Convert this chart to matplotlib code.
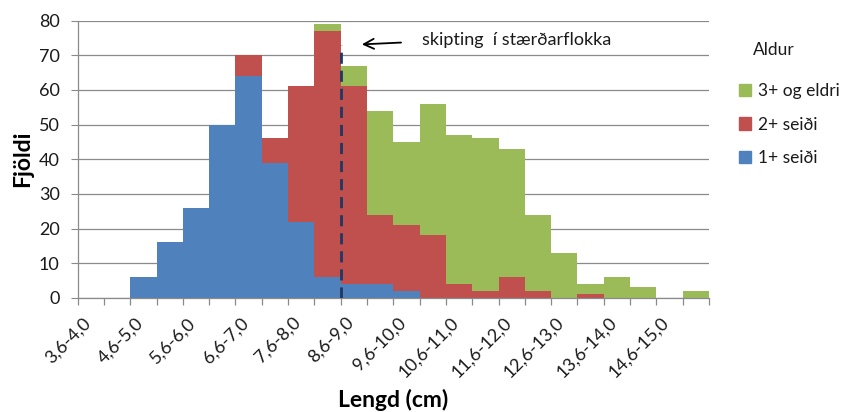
import matplotlib
matplotlib.use("Agg")
import matplotlib.pyplot as plt
from matplotlib.patches import Patch
import matplotlib.transforms as mtransforms
import numpy as np

plt.rcParams['font.family'] = ['Lato', 'DejaVu Sans']

categories = ["3,6-4,0", "4,1-4,5", "4,6-5,0", "5,1-5,5", "5,6-6,0", "6,1-6,5",
              "6,6-7,0", "7,1-7,5", "7,6-8,0", "8,1-8,5", "8,6-9,0", "9,1-9,5",
              "9,6-10,0", "10,1-10,5", "10,6-11,0", "11,1-11,5", "11,6-12,0", "12,1-12,5",
              "12,6-13,0", "13,1-13,5", "13,6-14,0", "14,1-14,5", "14,6-15,0", "15,1-15,5"]
seidi_1 = [0, 0, 6, 16, 26, 50, 64, 39, 22, 6, 4, 4, 2, 0, 0, 0, 0, 0, 0, 0, 0, 0, 0, 0]
seidi_2 = [0, 0, 0, 0, 0, 0, 6, 7, 39, 71, 57, 20, 19, 18, 4, 2, 6, 2, 0, 1, 0, 0, 0, 0]
eldri_3 = [0, 0, 0, 0, 0, 0, 0, 0, 0, 2, 6, 30, 24, 38, 43, 44, 37, 22, 13, 3, 6, 3, 0, 2]
series_names = ["1+ seiði", "2+ seiði", "3+ og eldri"]
split_index = 10      # split line at the left edge of 8,6-9,0
split_top = 73

c_blue, c_red, c_green = "#4F81BD", "#C0504D", "#9BBB59"
txt = "#1a1a1a"

fig = plt.figure(figsize=(8.46, 4.12), dpi=100)
ax = fig.add_axes([0.0918, 0.277, 0.7462, 0.673])

x = np.arange(len(categories))
b1 = np.array(seidi_1)
b2 = np.array(seidi_2)
b3 = np.array(eldri_3)
kw = dict(width=1.0, linewidth=0, zorder=2)
ax.bar(x, b1, color=c_blue, **kw)
ax.bar(x, b2, bottom=b1, color=c_red, **kw)
ax.bar(x, b3, bottom=b1 + b2, color=c_green, **kw)

ax.set_xlim(-0.5, len(categories) - 0.5)
ax.set_ylim(0, 80)
ax.set_yticks(np.arange(0, 81, 10))
ax.yaxis.grid(True, color="#8a8a8a", linewidth=0.9, zorder=0)
ax.set_axisbelow(True)
ax.tick_params(axis='y', length=5, color="#8a8a8a", labelsize=13, pad=8, labelcolor=txt)

ax.set_xticks(x[::2])
ax.set_xticklabels(categories[::2], rotation=45, ha='right', va='center',
                   rotation_mode='anchor', fontsize=13, color=txt)
ax.tick_params(axis='x', which='major', length=0, pad=16)
offset = mtransforms.ScaledTranslation(-3 / 100, 0, fig.dpi_scale_trans)
for lab in ax.get_xticklabels():
    lab.set_transform(lab.get_transform() + offset)
ax.set_xticks(np.arange(-0.5, len(categories), 1.0), minor=True)
ax.tick_params(axis='x', which='minor', length=5, color="#8a8a8a", width=0.9)

for s in ["top", "right"]:
    ax.spines[s].set_visible(False)
for s in ["left", "bottom"]:
    ax.spines[s].set_color("#8a8a8a")
    ax.spines[s].set_linewidth(0.9)

# split line
ax.plot([split_index - 0.5, split_index - 0.5], [0, split_top], color="#1F3864",
        linewidth=2, dashes=(4, 2.5), zorder=4)
ax.annotate("", xy=(10.2, 73.1), xytext=(11.9, 73.7),
            arrowprops=dict(arrowstyle="->", color="black", lw=1.3, mutation_scale=18))
ax.text(12.6, 74.3, "skipting  í stærðarflokka", fontsize=13, va='center', ha='left',
        color=txt)

ax.set_ylabel("Fjöldi", fontsize=16.5, fontweight='bold', labelpad=4)
fig.text(0.465, 1 - 400 / 412, "Lengd (cm)", fontsize=16.5, fontweight='bold',
         ha='center', va='center', color="black")

handles = [Patch(color=c_green), Patch(color=c_red), Patch(color=c_blue)]
labels = [series_names[2], series_names[1], series_names[0]]
fig.legend(handles, labels, loc='upper left', bbox_to_anchor=(0.8735, 0.798),
           frameon=False, fontsize=12.5, handlelength=0.7, handleheight=0.7,
           handletextpad=0.4, labelspacing=1.0, borderaxespad=0, borderpad=0,
           labelcolor=txt)
fig.text(0.89, 0.879, "Aldur", fontsize=12.5, va='center', ha='left', color=txt)

fig.savefig("out.png", dpi=100)
